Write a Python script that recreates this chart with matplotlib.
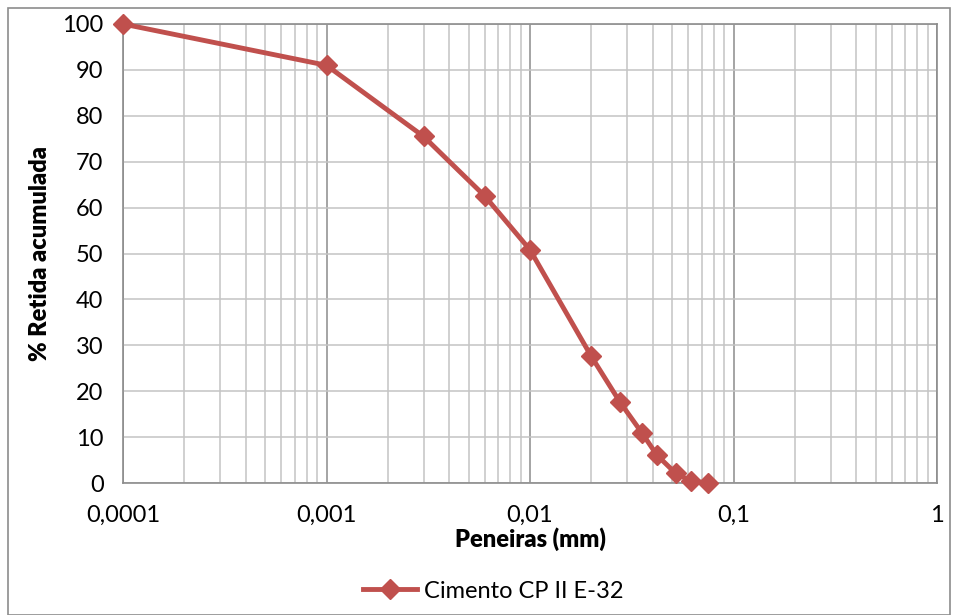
import matplotlib
matplotlib.use('Agg')
import matplotlib.pyplot as plt
from matplotlib.ticker import FixedLocator, LogLocator, NullFormatter
from matplotlib.patches import Rectangle

plt.rcParams['font.family'] = ['Lato', 'DejaVu Sans']

# dados
peneiras = [0.0001, 0.001, 0.003, 0.006, 0.01, 0.02, 0.0277, 0.0355, 0.042, 0.052, 0.062, 0.075]
retida = [100, 91, 75.5, 62.5, 50.8, 27.6, 17.6, 10.9, 6.1, 2.1, 0.4, 0]
serie = 'Cimento CP II E-32'
xticks = [0.0001, 0.001, 0.01, 0.1, 1]
xlabels = ['0,0001', '0,001', '0,01', '0,1', '1']
yticks = list(range(0, 101, 10))

cor = '#C0504D'
grade = '#C4C4C4'

fig = plt.figure(figsize=(9.58, 6.15), dpi=100)
ax = fig.add_axes([123 / 958, 1 - 483 / 615, (937 - 123) / 958, (483 - 24) / 615])

ax.plot(peneiras, retida, color=cor, lw=3.5, marker='D', markersize=10,
        markerfacecolor=cor, markeredgecolor=cor, label=serie, clip_on=False, zorder=5)

ax.set_xscale('log')
ax.set_xlim(0.0001, 1)
ax.set_ylim(0, 100)
ax.xaxis.set_major_locator(FixedLocator(xticks))
ax.set_xticklabels(xlabels)
ax.xaxis.set_minor_locator(LogLocator(base=10, subs=range(2, 10), numticks=20))
ax.xaxis.set_minor_formatter(NullFormatter())
ax.set_yticks(yticks)

ax.grid(True, which='major', color='#8C8C8C', lw=1.1)
ax.grid(True, which='minor', axis='x', color=grade, lw=1.1)
ax.grid(True, which='major', axis='y', color=grade, lw=1.1)
ax.set_axisbelow(True)

for s in ax.spines.values():
    s.set_color('#8C8C8C')
    s.set_linewidth(1.2)

ax.tick_params(axis='both', which='both', length=0, labelsize=17)
ax.tick_params(axis='y', pad=14)
ax.tick_params(axis='x', pad=16)

ax.set_xlabel('Peneiras (mm)', fontsize=17, fontweight='heavy', labelpad=1)
ax.set_ylabel('% Retida acumulada', fontsize=17, fontweight='heavy', labelpad=8)

fig.legend(loc='center', bbox_to_anchor=(0.5 + 14 / 958, 1 - 591 / 615), frameon=False,
           fontsize=17, handlelength=2.3, handletextpad=0.3)

fig.patches.append(Rectangle((8 / 958, 0), 942 / 958, 1 - 8 / 615, transform=fig.transFigure,
                             fill=False, edgecolor='#8C8C8C', lw=1.2))

plt.savefig('out.png', dpi=100)
